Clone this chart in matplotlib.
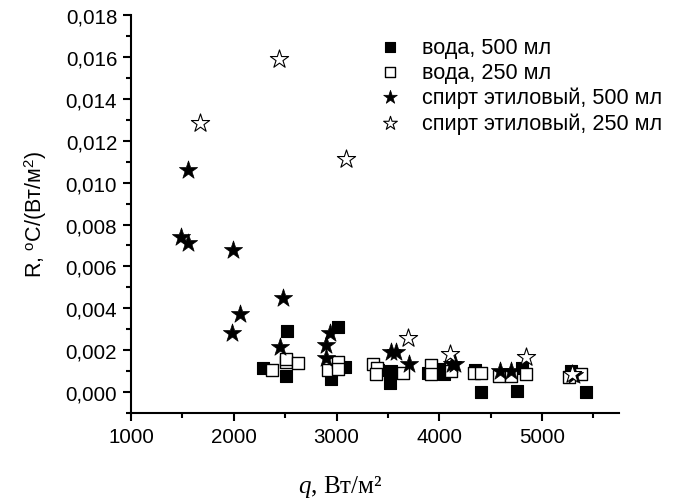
import matplotlib
matplotlib.use("Agg")
import matplotlib.pyplot as plt
from matplotlib.ticker import MultipleLocator, FuncFormatter

plt.rcParams['font.family'] = ['Liberation Sans', 'DejaVu Sans']
plt.rcParams['mathtext.fontset'] = 'custom'
plt.rcParams['mathtext.rm'] = 'Liberation Sans'
plt.rcParams['mathtext.it'] = 'Liberation Serif:italic'

# вода, 500 мл
water500_x = [2285, 2518, 2510, 3013, 3087, 2942, 3400, 3531, 3521, 3887, 4049, 4000, 4347, 4411, 4809, 4754, 5278, 5430]
water500_y = [0.00117, 0.00290, 0.00077, 0.00312, 0.00120, 0.00061, 0.00105, 0.00101, 0.00045, 0.00090, 0.00085, 0.00110, 0.00105, 0.0000, 0.00117, 0.00005, 0.00101, 0.0000]
# вода, 250 мл
water250_x = [2372, 2510, 2510, 2625, 2916, 3013, 3013, 3353, 3390, 3386, 3644, 3919, 3919, 4114, 4340, 4405, 4583, 4700, 4848, 5262, 5376]
water250_y = [0.00106, 0.00145, 0.00160, 0.00141, 0.00104, 0.00144, 0.00109, 0.00136, 0.00114, 0.00088, 0.00093, 0.0013, 0.00088, 0.00101, 0.00093, 0.00093, 0.00077, 0.00077, 0.00085, 0.0007, 0.00085]
# спирт этиловый, 500 мл
eth500_x = [1485, 1550, 1550, 1997, 2058, 1987, 2479, 2447, 2932, 2900, 2900, 3531, 3580, 3702, 4129, 4150, 4589, 4696, 5311]
eth500_y = [0.00738, 0.01061, 0.00714, 0.00677, 0.00373, 0.00282, 0.00448, 0.00216, 0.0028, 0.00224, 0.00162, 0.00189, 0.00189, 0.00133, 0.00133, 0.00133, 0.00101, 0.00101, 0.00082]
# спирт этиловый, 250 мл
eth250_x = [1670, 2440, 3094, 3693, 4104, 4848, 5290]
eth250_y = [0.01285, 0.01589, 0.01112, 0.00258, 0.00181, 0.00165, 0.00085]

labels = ['вода, 500 мл', 'вода, 250 мл', 'спирт этиловый, 500 мл', 'спирт этиловый, 250 мл']

fig = plt.figure(figsize=(6.73, 5.02), dpi=100)
ax = fig.add_axes([0.1947, 0.1753, 0.7251, 0.7927])

ax.scatter(water500_x, water500_y, marker='s', s=75, c='black', edgecolors='black', linewidths=0.8, label=labels[0], zorder=3)
ax.scatter(water250_x, water250_y, marker='s', s=75, c='white', edgecolors='black', linewidths=1.0, label=labels[1], zorder=3)
ax.scatter(eth500_x, eth500_y, marker='*', s=190, c='black', edgecolors='black', linewidths=0.5, label=labels[2], zorder=4)
ax.scatter(eth250_x, eth250_y, marker='*', s=190, c='white', edgecolors='black', linewidths=0.8, label=labels[3], zorder=4)

ax.set_xlim(1000, 5750)
ax.set_ylim(-0.001, 0.018)
ax.xaxis.set_major_locator(MultipleLocator(1000))
ax.xaxis.set_minor_locator(MultipleLocator(500))
ax.yaxis.set_major_locator(MultipleLocator(0.002))
ax.yaxis.set_minor_locator(MultipleLocator(0.001))
ax.yaxis.set_major_formatter(FuncFormatter(lambda v, p: f"{v:.3f}".replace('.', ',').replace('-0,000', '0,000')))
ax.xaxis.set_major_formatter(FuncFormatter(lambda v, p: f"{v:.0f}"))

for s in ['top', 'right']:
    ax.spines[s].set_visible(False)
for s in ['left', 'bottom']:
    ax.spines[s].set_linewidth(1.5)
ax.tick_params(which='major', direction='out', length=6, width=1.5, labelsize=14.8, pad=4)
ax.tick_params(which='minor', direction='out', length=3.5, width=1.5)

ax.set_ylabel('R, $^{\\mathrm{o}}$C/(Вт/м$^{\\mathrm{2}}$)', fontsize=15.5)
ax.yaxis.set_label_coords(-0.168, 0.5)
ax.set_xlabel('$q$, Вт/м²', fontsize=18, family=['Liberation Serif'])
ax.xaxis.set_label_coords(0.428, -0.15)

leg = ax.legend(loc='upper right', bbox_to_anchor=(1.115, 0.978), frameon=False, fontsize=15.6,
                markerscale=0.75, handletextpad=0.7, labelspacing=0.18, borderaxespad=0.2,
                handlelength=1.6)

fig.savefig('out.png', dpi=100)
